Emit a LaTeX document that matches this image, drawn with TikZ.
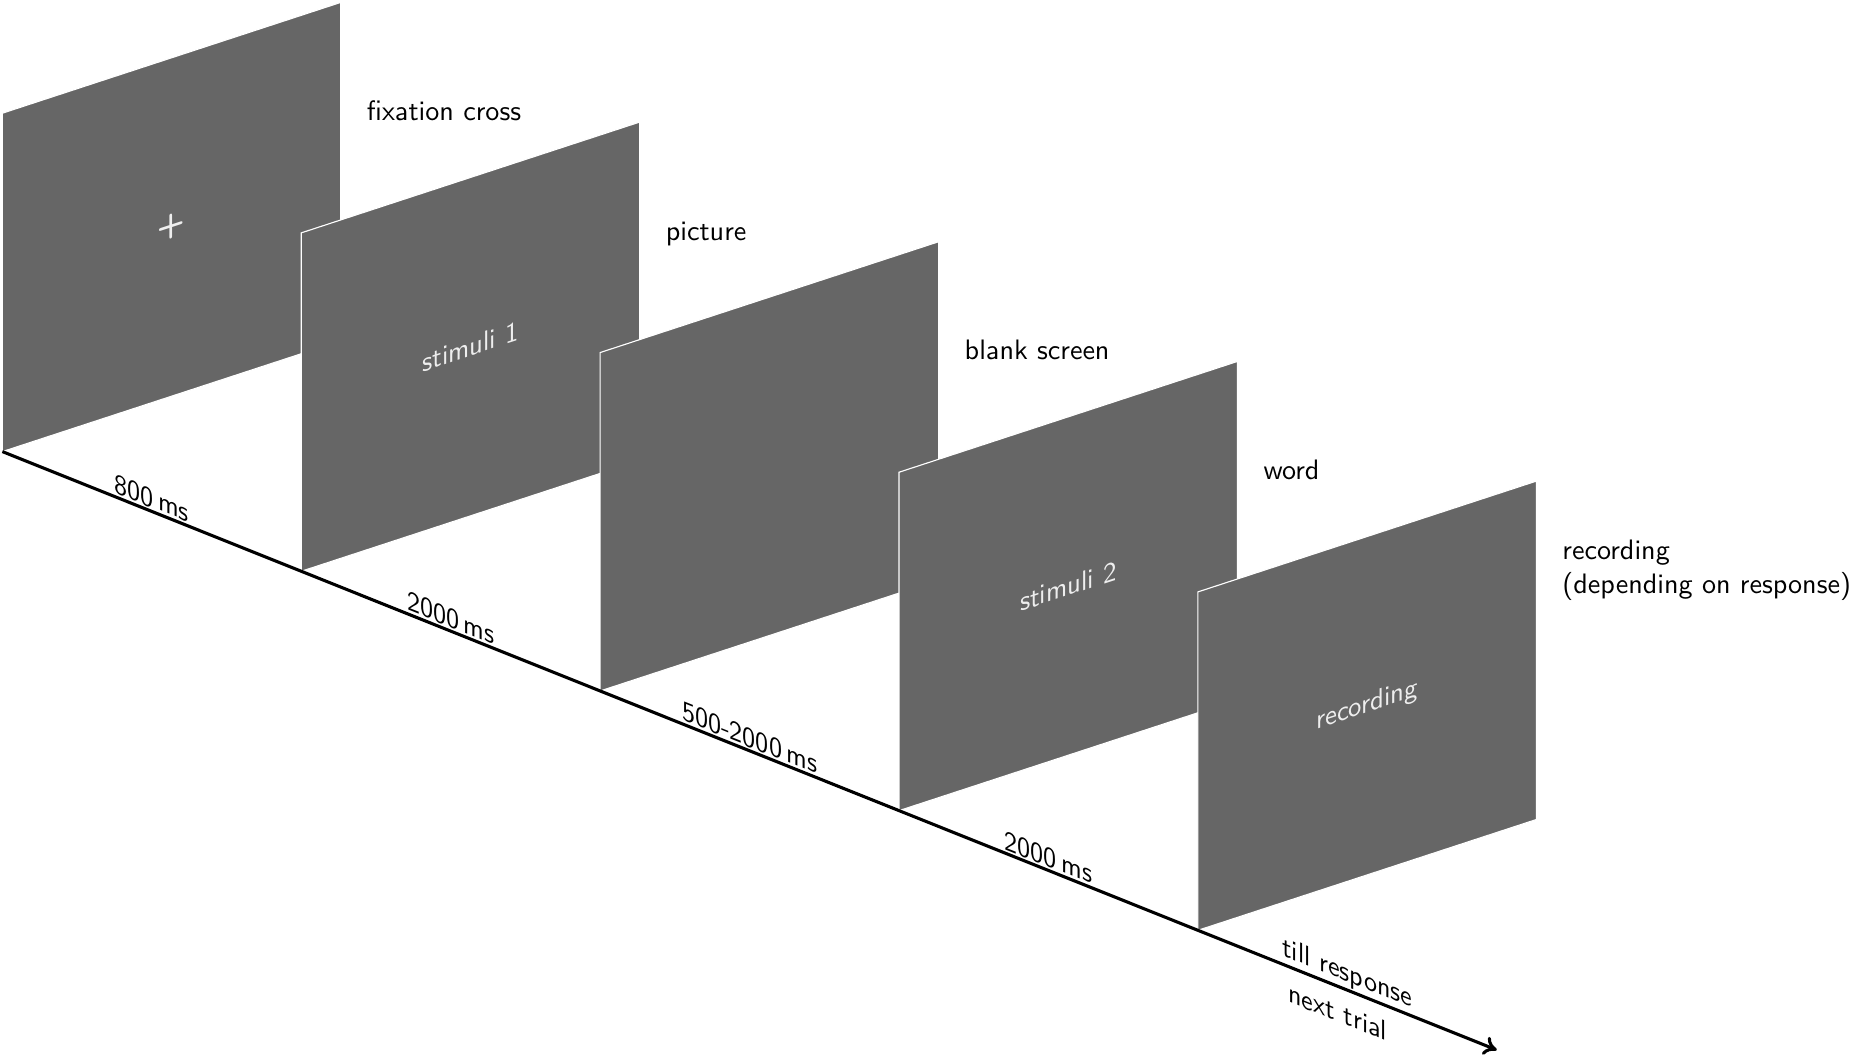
\documentclass[tikz,border=0pt]{standalone}
\usepackage{tikz}
\usetikzlibrary{arrows.meta,calc}
\definecolor{screenfill}{HTML}{666666}
\definecolor{screenink}{HTML}{EEEEEE}
\tikzset{
  screenbox/.style={fill=screenfill,draw=white,line width=0.4pt},
  ontext/.style={text=screenink,font=\sffamily,cm={0.9503,0.3111,0,1,(0,0)}},
  timelab/.style={font=\sffamily,inner sep=1pt,cm={0.9285,-0.3714,0,1,(0,0)}},
  phase/.style={font=\sffamily,anchor=base west,align=left,inner sep=0pt},
  timeline/.style={line width=1.1pt,-{To[length=1.6mm,width=2.4mm]}},
}

\begin{document}
\begin{tikzpicture}[x={(3.736cm,-1.496cm)},y={(4.230cm,1.385cm)},z={(0cm,4.230cm)}]
  \useasboundingbox (-0.03cm,5.645cm) rectangle (23.0825cm,-7.555cm);
  % screens, back to front
  \foreach \i in {0,...,4}
    \filldraw[screenbox] (\i,0,0) -- (\i,1,0) -- (\i,1,1) -- (\i,0,1) -- cycle;
  % time axis
  \foreach \i in {0,...,5}
    \coordinate (t\i) at (\i,0,0);
  \draw[timeline] (t0) -- (t5);

  % what is on each screen
  \node[ontext,font=\sffamily\bfseries\large] (cross) at (0,0.5,0.5) {+};
  \node[ontext] (stim1) at (1,0.5,0.5) {stimuli 1};
  \node[ontext] (stim2) at (3,0.5,0.5) {stimuli 2};
  \node[ontext] (rec)   at (4,0.5,0.5) {recording};

  % phase names
  \node[phase,xshift=4.55cm,yshift=-0.09cm] (pfix)   at (0,0,1) {fixation cross};
  \node[phase,xshift=4.55cm,yshift=-0.09cm] (ppic)   at (1,0,1) {picture};
  \node[phase,xshift=4.55cm,yshift=-0.09cm] (pblank) at (2,0,1) {blank screen};
  \node[phase,xshift=4.55cm,yshift=-0.09cm] (pword)  at (3,0,1) {word};
  \node[phase,xshift=4.55cm,yshift=-0.02cm] (prec)   at (4,0,1)
    {recording\\(depending on response)};

  % durations
  \node[timelab,anchor=south] (d0) at ($(t0)!0.5!(t1)$) {800\,ms};
  \node[timelab,anchor=south] (d1) at ($(t1)!0.5!(t2)$) {2000\,ms};
  \node[timelab,anchor=south] (d2) at ($(t2)!0.5!(t3)$) {500-2000\,ms};
  \node[timelab,anchor=south] (d3) at ($(t3)!0.5!(t4)$) {2000\,ms};
  \node[timelab,anchor=south] (d4) at ($(t4)!0.5!(t5)$) {till response};
  \node[timelab,anchor=north,inner sep=4pt] (d5)
    at ($(t4)!0.5!(t5)+(-0.12cm,0)$) {next trial};
\end{tikzpicture}
\end{document}
